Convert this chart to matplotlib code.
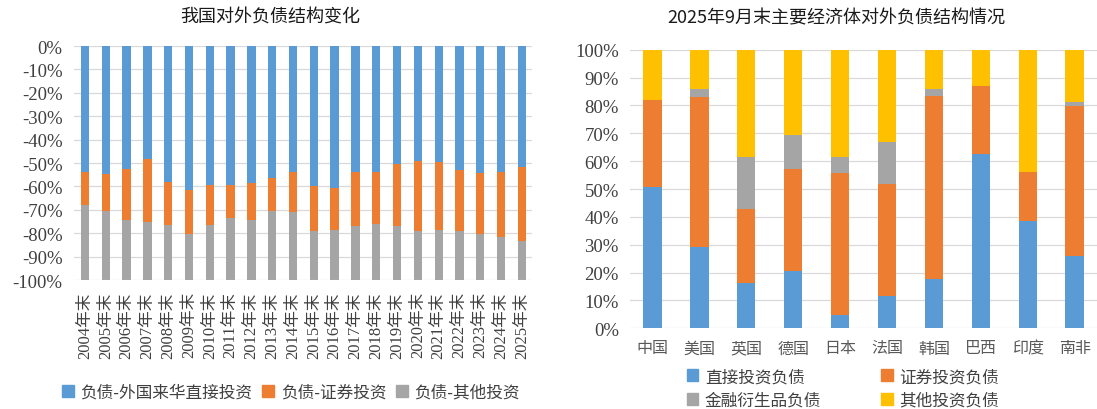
"""Two stacked-bar panels: China's external liability mix over time, and the
mix across major economies at end-September 2025."""
import matplotlib
import matplotlib.pyplot as plt
import numpy as np
from matplotlib.patches import Patch

matplotlib.use("Agg")

BLUE = "#5B9BD5"
ORANGE = "#ED7D31"
GREY = "#A5A5A5"
YELLOW = "#FFC000"
GRID = "#D9D9D9"
TEXT = "#404040"

CJK = ["Noto Sans CJK SC", "DejaVu Sans"]
SERIF_CJK = ["Liberation Serif", "Noto Sans CJK SC"]

# left panel: shares of total external liabilities (%), drawn downwards
YEARS = [f"{y}年末" for y in range(2004, 2026)]
FDI_SHARE = [54.0, 54.5, 52.4, 48.1, 58.2, 61.6, 59.6, 59.6, 58.5, 56.2, 53.9,
             59.9, 60.6, 53.9, 53.9, 50.6, 49.1, 49.6, 53.0, 54.4, 53.9, 51.6]
SEC_SHARE = [14.0, 16.0, 21.8, 27.3, 18.2, 18.6, 16.8, 13.9, 16.0, 14.4, 16.9,
             19.3, 17.9, 22.9, 22.0, 26.2, 30.1, 28.9, 26.2, 25.8, 27.8, 31.9]
OTHER_SHARE = [32.0, 29.5, 25.8, 24.6, 23.6, 19.8, 23.6, 26.5, 25.5, 29.4, 29.2,
               20.8, 21.5, 23.2, 24.1, 23.2, 20.8, 21.5, 20.8, 19.8, 18.3, 16.5]
LEFT_LABELS = ["负债-外国来华直接投资", "负债-证券投资", "负债-其他投资"]

# right panel: end-Sep 2025 structure by economy (%)
ECONOMIES = ["中国", "美国", "英国", "德国", "日本", "法国", "韩国", "巴西", "印度", "南非"]
DIRECT = [50.8, 29.1, 16.3, 20.7, 4.9, 11.7, 17.7, 62.6, 38.4, 26.1]
PORTFOLIO = [31.1, 53.8, 26.5, 36.5, 50.8, 40.1, 65.8, 24.2, 17.8, 53.6]
DERIV = [0.0, 3.0, 18.8, 12.2, 5.9, 15.2, 2.4, 0.0, 0.0, 1.6]
OTHER = [18.1, 14.1, 38.4, 30.6, 38.4, 33.0, 14.1, 13.2, 43.8, 18.7]
RIGHT_LABELS = ["直接投资负债", "证券投资负债", "金融衍生品负债", "其他投资负债"]


def style_axis(ax):
    for s in ax.spines.values():
        s.set_visible(False)
    ax.set_axisbelow(True)
    ax.yaxis.grid(True, color=GRID, linewidth=0.9)
    ax.tick_params(length=0, pad=8, colors=TEXT)


fig = plt.figure(figsize=(10.97, 4.10), dpi=100)

# ---- left panel
axl = fig.add_axes([0.0671, 0.3146, 0.4181, 0.5707])
style_axis(axl)
x = np.arange(len(YEARS))
fdi = np.array(FDI_SHARE)
sec = np.array(SEC_SHARE)
oth = np.array(OTHER_SHARE)
w = 0.4
axl.bar(x, -fdi, w, color=BLUE)
axl.bar(x, -sec, w, bottom=-fdi, color=ORANGE)
axl.bar(x, -oth, w, bottom=-(fdi + sec), color=GREY)
axl.set_xlim(-0.55, len(YEARS) - 0.5)
axl.set_ylim(-100, 0)
yt = np.arange(-100, 1, 10)
axl.set_yticks(yt)
axl.set_yticklabels([f"{v}%" for v in yt], family="Liberation Serif", fontsize=13.5)
axl.set_xticks(x)
axl.set_xticklabels(YEARS, rotation=90, family=SERIF_CJK, fontsize=12)

fig.text(270 / 1097, 1 - 18 / 410, "我国对外负债结构变化", ha="center", va="center",
         fontsize=13, family=CJK, color="#1a1a1a")

fig.legend(
    [Patch(color=c) for c in (BLUE, ORANGE, GREY)], LEFT_LABELS,
    loc="center", bbox_to_anchor=(291 / 1097, 1 - 393 / 410), ncol=3,
    frameon=False, handlelength=0.7, handleheight=0.7, handletextpad=0.4,
    columnspacing=0.6, prop={"family": CJK, "size": 12}, labelcolor=TEXT,
)

# ---- right panel
axr = fig.add_axes([0.5743, 0.1968, 0.4254, 0.6795])
style_axis(axr)
xr = np.arange(len(ECONOMIES))
bottom = np.zeros(len(ECONOMIES))
for vals, col in zip((DIRECT, PORTFOLIO, DERIV, OTHER), (BLUE, ORANGE, GREY, YELLOW)):
    axr.bar(xr, vals, 0.39, bottom=bottom, color=col)
    bottom += np.array(vals)
axr.set_xlim(-0.48, len(ECONOMIES) - 0.53)
axr.set_ylim(0, 100)
ytr = np.arange(0, 101, 10)
axr.set_yticks(ytr)
axr.set_yticklabels([f"{v}%" for v in ytr], family="Liberation Serif", fontsize=13.5)
axr.set_xticks(xr)
axr.set_xticklabels(ECONOMIES, family=CJK, fontsize=11.5, color="#595959")

fig.text(836 / 1097, 1 - 18 / 410, "2025年9月末主要经济体对外负债结构情况", ha="center",
         va="center", fontsize=13, family=CJK, color="#1a1a1a")

# ncol=2 fills by column, so order handles to read row-wise
order = [0, 2, 1, 3]
cols = [BLUE, ORANGE, GREY, YELLOW]
fig.legend(
    [Patch(color=cols[i]) for i in order], [RIGHT_LABELS[i] for i in order],
    loc="center", bbox_to_anchor=(843 / 1097, 1 - 389.5 / 410), ncol=2,
    frameon=False, handlelength=0.7, handleheight=0.7, handletextpad=0.4,
    columnspacing=3.6, labelspacing=0.4, prop={"family": CJK, "size": 12},
    labelcolor=TEXT,
)

fig.savefig("out.png", dpi=100)
plt.close(fig)
